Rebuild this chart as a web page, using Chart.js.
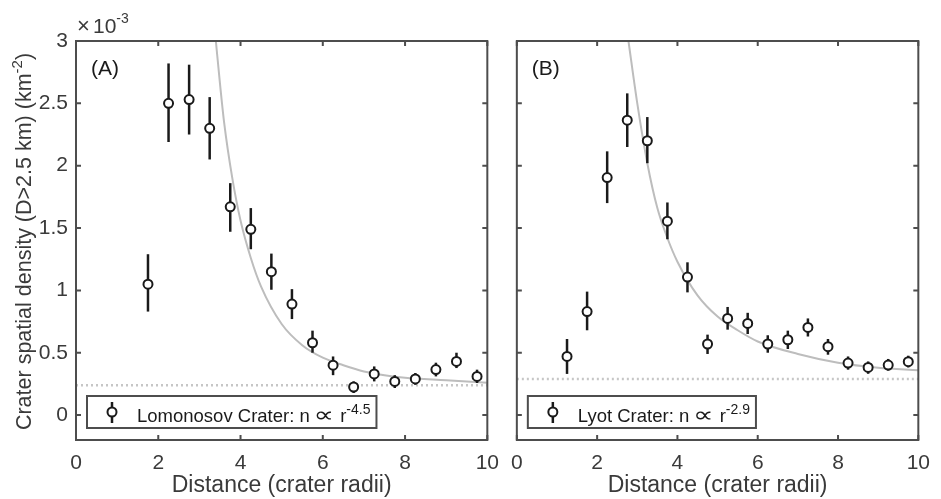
<!DOCTYPE html>
<html>
<head>
<meta charset="utf-8">
<script src="https://cdn.jsdelivr.net/npm/chart.js@4.4.0/dist/chart.umd.min.js"></script>
<style>
    html, body { margin: 0; padding: 0; background: #fff; overflow: hidden; }
    #wrap { position: relative; width: 941px; height: 499px; }
    #chartA { position: absolute; left: 0; top: 0; }
    #chartB { position: absolute; left: 500px; top: 0; }
</style>
</head>
<body>
<div id="wrap">
    <canvas id="chartA" width="510" height="499"></canvas>
    <canvas id="chartB" width="441" height="499"></canvas>
</div>
<script>
const xTicks = [0, 2, 4, 6, 8, 10];
const yTicks = [0, 0.5, 1, 1.5, 2, 2.5, 3];

// (A) Lomonosov
const binsA = [1.75, 2.25, 2.75, 3.25, 3.75, 4.25, 4.75, 5.25, 5.75, 6.25, 6.75, 7.25, 7.75, 8.25, 8.75, 9.25, 9.75];
const densityA = [1.05, 2.50, 2.53, 2.30, 1.67, 1.49, 1.15, 0.89, 0.58, 0.40, 0.225, 0.33, 0.27, 0.29, 0.365, 0.43, 0.31];
const lowerA = [0.83, 2.19, 2.25, 2.05, 1.47, 1.33, 1.005, 0.77, 0.50, 0.32, 0.177, 0.27, 0.217, 0.243, 0.31, 0.377, 0.257];
const upperA = [1.29, 2.82, 2.81, 2.55, 1.86, 1.66, 1.295, 1.01, 0.677, 0.47, 0.27, 0.39, 0.32, 0.337, 0.42, 0.50, 0.364];
const fitXA = [3.4, 3.5, 3.6, 3.8, 4.0, 4.25, 4.5, 5.0, 5.5, 6.0, 6.5, 7.0, 7.5, 8.0, 9.0, 10.0];
const fitYA = [3.0, 2.66, 2.35, 1.90, 1.56, 1.26, 1.03, 0.73, 0.56, 0.46, 0.40, 0.35, 0.32, 0.30, 0.28, 0.26];
const backgroundA = 0.24;

// (B) Lyot
const binsB = [1.25, 1.75, 2.25, 2.75, 3.25, 3.75, 4.25, 4.75, 5.25, 5.75, 6.25, 6.75, 7.25, 7.75, 8.25, 8.75, 9.25, 9.75];
const densityB = [0.47, 0.83, 1.905, 2.365, 2.20, 1.555, 1.107, 0.57, 0.775, 0.735, 0.57, 0.604, 0.703, 0.548, 0.417, 0.382, 0.401, 0.428];
const lowerB = [0.33, 0.68, 1.70, 2.15, 2.02, 1.41, 0.984, 0.49, 0.685, 0.65, 0.50, 0.53, 0.63, 0.484, 0.364, 0.331, 0.356, 0.382];
const upperB = [0.61, 0.99, 2.115, 2.58, 2.39, 1.705, 1.225, 0.645, 0.867, 0.82, 0.64, 0.677, 0.775, 0.61, 0.47, 0.43, 0.45, 0.476];
const fitXB = [2.78, 3.0, 3.25, 3.5, 3.75, 4.0, 4.5, 5.0, 5.5, 6.0, 7.0, 8.0, 9.0, 10.0];
const fitYB = [3.0, 2.5, 2.02, 1.66, 1.42, 1.23, 0.96, 0.79, 0.68, 0.59, 0.49, 0.42, 0.38, 0.36];
const backgroundB = 0.29;

const FONT = "'Liberation Sans', Arial, Helvetica, sans-serif";
const INK = '#1a1a1a';
const FRAME = '#4d4d4d';
const TEXT = '#3a3a3a';

Chart.defaults.font.family = FONT;

function font(size) {
    return `${size}px ${FONT}`;
}

// draws base text then a raised smaller piece, returns the end x
function drawSup(ctx, x, y, base, sup, baseSize, supSize, rise) {
    ctx.font = font(baseSize);
    ctx.fillText(base, x, y);
    x += ctx.measureText(base).width;
    ctx.font = font(supSize);
    ctx.fillText(sup, x, y - rise);
    return x + ctx.measureText(sup).width;
}

// legend label "<name>: n ∝ r^<exp>", returns the end x
function drawLaw(ctx, x, y, name, exponent) {
    ctx.font = font(18.5);
    ctx.fillText(name + ': n', x, y);
    x += ctx.measureText(name + ': n').width + 4;
    ctx.save();
    ctx.translate(x, y);
    ctx.scale(1.3, 1);
    ctx.font = `22px 'DejaVu Sans', ${FONT}`;
    ctx.fillText('\u221D', 0, 0);
    const w = ctx.measureText('\u221D').width * 1.3;
    ctx.restore();
    x += w + 6;
    return drawSup(ctx, x, y, 'r', exponent, 18.5, 14, 8);
}

function errorBarPlugin(lower, upper) {
    return {
        id: 'errorBars',
        beforeDatasetDraw(chart, args) {
            if (args.index !== 0) return;
            const ctx = chart.ctx;
            const xs = chart.scales.x;
            const ys = chart.scales.y;
            const points = chart.data.datasets[0].data;
            ctx.save();
            ctx.strokeStyle = INK;
            ctx.lineWidth = 2.5;
            points.forEach((p, i) => {
                const px = xs.getPixelForValue(p.x);
                ctx.beginPath();
                ctx.moveTo(px, ys.getPixelForValue(lower[i]));
                ctx.lineTo(px, ys.getPixelForValue(upper[i]));
                ctx.stroke();
            });
            ctx.restore();
        }
    };
}

function decorPlugin(panel) {
    return {
        id: 'decor',
        afterDraw(chart) {
            const ctx = chart.ctx;
            const { left, right, top, bottom } = chart.chartArea;
            const xs = chart.scales.x;
            const ys = chart.scales.y;
            ctx.save();

            // box with inward ticks
            ctx.strokeStyle = FRAME;
            ctx.lineWidth = 2;
            ctx.strokeRect(left, top, right - left, bottom - top);
            ctx.beginPath();
            xTicks.forEach(v => {
                const px = xs.getPixelForValue(v);
                ctx.moveTo(px, bottom); ctx.lineTo(px, bottom - 5);
                ctx.moveTo(px, top); ctx.lineTo(px, top + 5);
            });
            yTicks.forEach(v => {
                const py = ys.getPixelForValue(v);
                ctx.moveTo(left, py); ctx.lineTo(left + 5, py);
                ctx.moveTo(right, py); ctx.lineTo(right - 5, py);
            });
            ctx.stroke();

            // panel letter
            ctx.fillStyle = INK;
            ctx.textBaseline = 'alphabetic';
            ctx.textAlign = 'left';
            ctx.font = font(21);
            ctx.fillText(panel.tag, left + 15, top + 34);

            // legend: measure first with nothing visible, then box, then content
            const bx = left + 11;
            const by = 396;
            ctx.save();
            ctx.globalAlpha = 0;
            const textEnd = drawLaw(ctx, bx + 50, by + 26, panel.legend, panel.legendSup);
            ctx.restore();
            const bw = textEnd - bx + 6;
            const bh = 32;
            ctx.fillStyle = '#fff';
            ctx.fillRect(bx, by, bw, bh);
            ctx.strokeStyle = FRAME;
            ctx.lineWidth = 2;
            ctx.strokeRect(bx, by, bw, bh);
            const mx = bx + 25;
            const my = by + 16;
            ctx.strokeStyle = INK;
            ctx.lineWidth = 2.5;
            ctx.beginPath();
            ctx.moveTo(mx, my - 10); ctx.lineTo(mx, my + 11);
            ctx.stroke();
            ctx.fillStyle = '#fff';
            ctx.lineWidth = 2;
            ctx.beginPath();
            ctx.arc(mx, my, 4.5, 0, Math.PI * 2);
            ctx.fill();
            ctx.stroke();
            ctx.fillStyle = INK;
            drawLaw(ctx, bx + 50, by + 26, panel.legend, panel.legendSup);

            if (panel.showYTitle) {
                // exponent label
                ctx.fillStyle = TEXT;
                ctx.font = font(22);
                ctx.fillText('\u00D7', left + 1, top - 8);
                drawSup(ctx, left + 17, top - 8, '10', '-3', 21, 14, 10);

                // y title
                ctx.save();
                ctx.translate(31, (top + bottom) / 2 + 1);
                ctx.rotate(-Math.PI / 2);
                const main = 'Crater spatial density (D>2.5 km) (km';
                ctx.font = font(21.5);
                const w1 = ctx.measureText(main).width;
                const w3 = ctx.measureText(')').width;
                ctx.font = font(15);
                const w2 = ctx.measureText('-2').width;
                let x = -(w1 + w2 + w3) / 2;
                x = drawSup(ctx, x, 0, main, '-2', 21.5, 15, 9);
                ctx.font = font(21.5);
                ctx.fillText(')', x, 0);
                ctx.restore();
            }
            ctx.restore();
        }
    };
}

function createPanel(canvasId, panel) {
    const ctx = document.getElementById(canvasId).getContext('2d');
    return new Chart(ctx, {
        type: 'scatter',
        data: {
            datasets: [
                {
                    data: panel.bins.map((x, i) => ({ x, y: panel.density[i] })),
                    order: 0,
                    pointRadius: 4.5,
                    pointBorderWidth: 2,
                    pointBorderColor: INK,
                    pointBackgroundColor: '#fff'
                },
                {
                    type: 'line',
                    data: panel.fitX.map((x, i) => ({ x, y: panel.fitY[i] })),
                    order: 1,
                    borderColor: '#bdbdbd',
                    borderWidth: 2,
                    pointRadius: 0,
                    cubicInterpolationMode: 'monotone',
                    fill: false
                },
                {
                    type: 'line',
                    data: [{ x: 0, y: panel.background }, { x: 10, y: panel.background }],
                    order: 2,
                    borderColor: '#c6c6c6',
                    borderWidth: 2.5,
                    borderDash: [2, 3],
                    pointRadius: 0,
                    fill: false
                }
            ]
        },
        options: {
            responsive: false,
            animation: false,
            events: [],
            layout: {
                padding: { left: 0, top: 41, right: panel.padRight, bottom: 0 }
            },
            plugins: {
                legend: { display: false },
                tooltip: { enabled: false }
            },
            scales: {
                x: {
                    type: 'linear',
                    min: 0,
                    max: 10,
                    grid: { display: false, drawTicks: false },
                    border: { display: false },
                    afterBuildTicks: scale => { scale.ticks = xTicks.map(v => ({ value: v })); },
                    afterFit: scale => { scale.height = 59; },
                    ticks: {
                        autoSkip: false,
                        maxRotation: 0,
                        padding: 11,
                        color: TEXT,
                        font: { size: 21 }
                    },
                    title: {
                        display: true,
                        text: 'Distance (crater radii)',
                        color: TEXT,
                        font: { size: 23 },
                        padding: { top: 0, bottom: 0 }
                    }
                },
                y: {
                    type: 'linear',
                    min: -0.2,
                    max: 3,
                    grid: { display: false, drawTicks: false },
                    border: { display: false },
                    afterBuildTicks: scale => { scale.ticks = yTicks.map(v => ({ value: v })); },
                    afterFit: scale => { scale.width = panel.axisWidth; },
                    ticks: {
                        display: panel.showYTitle,
                        padding: 8,
                        color: TEXT,
                        font: { size: 21 },
                        callback: v => String(v)
                    }
                }
            }
        },
        plugins: [errorBarPlugin(panel.lower, panel.upper), decorPlugin(panel)]
    });
}

document.addEventListener('DOMContentLoaded', () => {
    createPanel('chartA', {
        tag: '(A)',
        legend: 'Lomonosov Crater',
        legendSup: '-4.5',
        bins: binsA, density: densityA, lower: lowerA, upper: upperA,
        fitX: fitXA, fitY: fitYA, background: backgroundA,
        axisWidth: 76, padRight: 20, showYTitle: true
    });
    createPanel('chartB', {
        tag: '(B)',
        legend: 'Lyot Crater',
        legendSup: '-2.9',
        bins: binsB, density: densityB, lower: lowerB, upper: upperB,
        fitX: fitXB, fitY: fitYB, background: backgroundB,
        axisWidth: 16, padRight: 12, showYTitle: false
    });
});
</script>
</body>
</html>
